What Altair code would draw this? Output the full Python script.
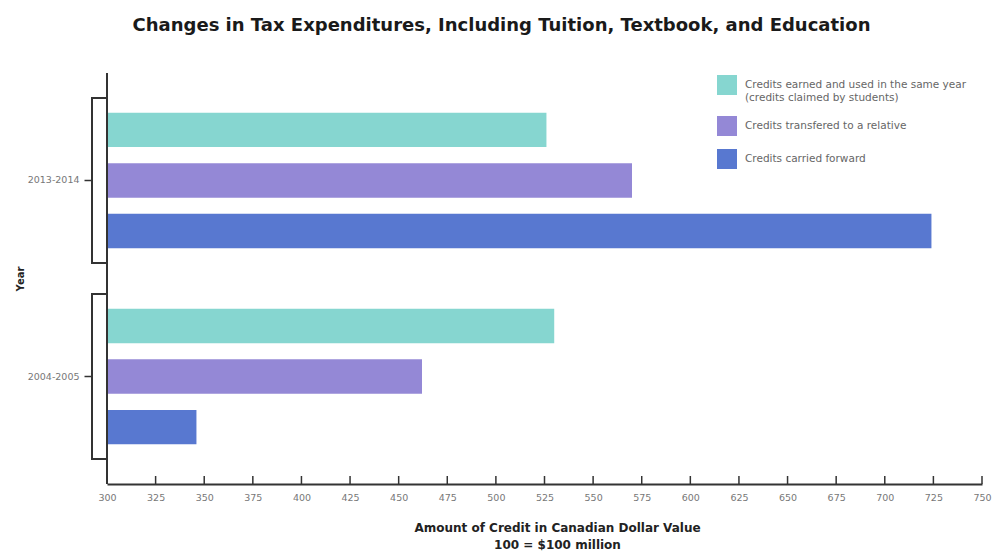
import altair as alt
import pandas as pd

years = ["2013-2014", "2013-2014", "2013-2014", "2004-2005", "2004-2005", "2004-2005"]
series = [
    "Credits earned and used in the same year (credits claimed by students)",
    "Credits transfered to a relative",
    "Credits carried forward",
]
series_col = series * 2
values = [526, 570, 724, 530, 462, 346]
year_order = ["2013-2014", "2004-2005"]
colors = ["#86D6D0", "#9488D6", "#5878D0"]
tick_values = [300, 325, 350, 375, 400, 425, 450, 475, 500, 525, 550, 575,
               600, 625, 650, 675, 700, 725, 750]

W, H = 875, 411
FONT = "DejaVu Sans"

df = pd.DataFrame({"Year": years, "Series": series_col, "Value": values})
ticks_df = pd.DataFrame({"tick": tick_values})
brackets_df = pd.DataFrame({"Year": year_order})

xscale = alt.Scale(domain=[300, 750], nice=False, zero=False)
yscale = alt.Scale(domain=year_order, paddingInner=0, paddingOuter=0.048)

yaxis = alt.Axis(title="Year", offset=15, domain=False, tickSize=8,
                 tickColor="#333333", tickWidth=1.5,
                 labelFontSize=9.5, labelColor="#777777", labelPadding=5,
                 labelFont=FONT,
                 titleFont=FONT, titleFontSize=10, titleFontWeight="bold",
                 titleColor="#222222", titlePadding=2)

label_expr = ("datum.label == '" + series[0] + "' ? "
              "['Credits earned and used in the same year', '(credits claimed by students)'] : datum.label")

bars = alt.Chart(df).mark_bar().encode(
    x=alt.X("Value:Q", scale=xscale,
            axis=alt.Axis(values=tick_values, ticks=False, grid=False,
                          domainColor="#333333", domainWidth=2,
                          labelFontSize=9.5, labelColor="#777777", labelPadding=8,
                          labelFont=FONT, labelFlush=False,
                          title=["Amount of Credit in Canadian Dollar Value", "100 = $100 million"],
                          titleFont=FONT, titleFontSize=12, titleFontWeight="bold",
                          titleColor="#222222", titlePadding=21, titleLineHeight=17,
                          titleX=450)),
    x2=alt.datum(300),
    y=alt.Y("Year:N", scale=yscale, sort=year_order, axis=yaxis),
    yOffset=alt.YOffset("Series:N", sort=series,
                        scale=alt.Scale(paddingInner=0.32, paddingOuter=0.6)),
    color=alt.Color("Series:N", sort=series,
                    scale=alt.Scale(domain=series, range=colors),
                    legend=alt.Legend(orient="none", legendX=610, legendY=2,
                                      title=None, symbolType="square",
                                      symbolSize=400, symbolStrokeWidth=0,
                                      symbolOpacity=1,
                                      labelFont=FONT, labelFontSize=10.5,
                                      labelColor="#666666", labelOffset=8,
                                      labelExpr=label_expr, labelLimit=320,
                                      rowPadding=13)),
)

brackets = alt.Chart(brackets_df).mark_bar(
    size=165, fill=None, fillOpacity=0, stroke="#333333", strokeWidth=2
).encode(
    y=alt.Y("Year:N", scale=yscale, sort=year_order, axis=yaxis),
    x=alt.value(-15),
    x2=alt.value(0),
)

yline = alt.Chart(ticks_df).mark_rule(color="#333333", strokeWidth=2).encode(
    x=alt.value(0), y=alt.value(0), y2=alt.value(H)
)

xticks = alt.Chart(ticks_df).mark_rule(color="#333333", strokeWidth=1.5).encode(
    x=alt.X("tick:Q", scale=xscale),
    y=alt.value(H - 8),
    y2=alt.value(H),
)

chart = alt.layer(bars, brackets, yline, xticks).properties(
    width=W, height=H,
    title=alt.Title("Changes in Tax Expenditures, Including Tuition, Textbook, and Education",
                    font=FONT, fontSize=18, fontWeight="bold", color="#1a1a1a",
                    anchor="middle", dx=-43, offset=37),
    autosize=alt.AutoSizeParams(type="none"),
    padding={"left": 107, "top": 73, "right": 20, "bottom": 68},
).configure_view(stroke=None)

chart.save("out.html", embed_options={"renderer": "svg", "actions": False})
